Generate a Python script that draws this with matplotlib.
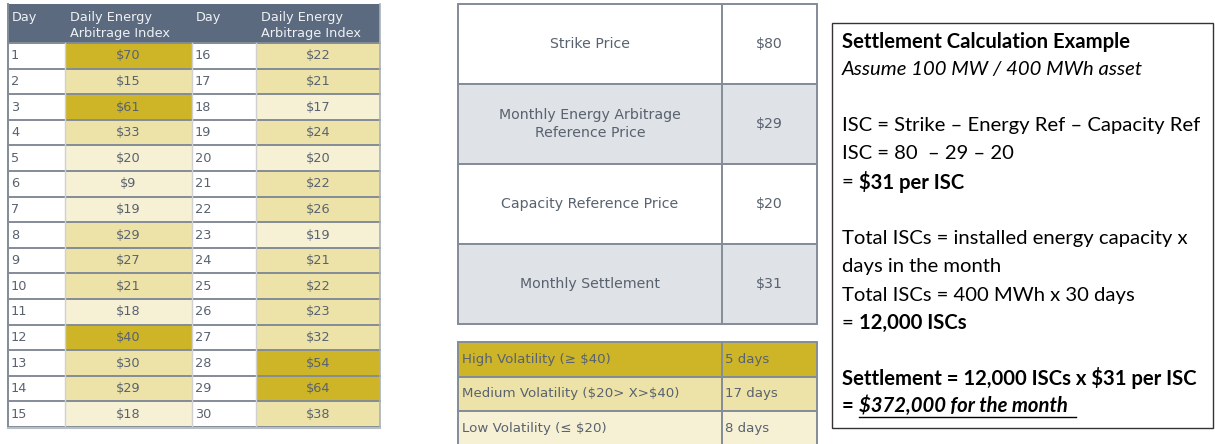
import matplotlib.pyplot as plt
from matplotlib.patches import Rectangle

plt.rcParams['text.parse_math'] = False

# daily index table
days_a = list(range(1, 16))
price_a = [70, 15, 61, 33, 20, 9, 19, 29, 27, 21, 18, 40, 30, 29, 18]
level_a = ['H', 'M', 'H', 'M', 'L', 'L', 'L', 'M', 'M', 'M', 'L', 'H', 'M', 'M', 'L']
days_b = list(range(16, 31))
price_b = [22, 21, 17, 24, 20, 22, 26, 19, 21, 22, 23, 32, 54, 64, 38]
level_b = ['M', 'M', 'L', 'M', 'L', 'M', 'M', 'L', 'M', 'M', 'M', 'M', 'H', 'H', 'M']

# reference price table
ref_labels = ['Strike Price', 'Monthly Energy Arbitrage\nReference Price',
              'Capacity Reference Price', 'Monthly Settlement']
ref_values = ['$80', '$29', '$20', '$31']

# volatility buckets
vol_labels = ['High Volatility (≥ $40)', 'Medium Volatility ($20> X>$40)', 'Low Volatility (≤ $20)']
vol_days = ['5 days', '17 days', '8 days']
vol_levels = ['H', 'M', 'L']

level_color = {'H': '#cdb527', 'M': '#ede3a9', 'L': '#f6f0d5'}
txt_gray = '#59626f'
header_col = '#5b6a7e'
line_col = '#838c97'

fig = plt.figure(figsize=(12.15, 4.44), dpi=100)
ax = fig.add_axes([0, 0, 1, 1])
ax.set_xlim(0, 1215)
ax.set_ylim(444, 0)
ax.axis('off')

# ---- left table ----
xe = [8, 65, 192, 256, 380]
top, head_h, row_h = 4, 39, 25.6
fs_l = 9.3
ax.add_patch(Rectangle((xe[0], top), xe[-1] - xe[0], head_h, color=header_col, lw=0))
for x0, lab in [(xe[0], 'Day'), (xe[2], 'Day')]:
    ax.text(x0 + 4, top + 13, lab, color='#eef1f4', fontsize=fs_l, va='center', ha='left')
for x0 in [xe[1], xe[3]]:
    ax.text(x0 + 5, top + 13, 'Daily Energy', color='#eef1f4', fontsize=fs_l, va='center')
    ax.text(x0 + 5, top + 29, 'Arbitrage Index', color='#eef1f4', fontsize=fs_l, va='center')

for j, (dd, pp, ll) in enumerate([(days_a, price_a, level_a), (days_b, price_b, level_b)]):
    xd, xp, xr = xe[2 * j], xe[2 * j + 1], xe[2 * j + 2]
    for i in range(len(dd)):
        y0 = top + head_h + i * row_h
        ax.add_patch(Rectangle((xd, y0), xp - xd, row_h, facecolor='white', lw=0))
        ax.add_patch(Rectangle((xp, y0), xr - xp, row_h, facecolor=level_color[ll[i]], lw=0))
        ax.text(xd + 3, y0 + row_h / 2, str(dd[i]), color=txt_gray, fontsize=fs_l, va='center')
        ax.text((xp + xr) / 2, y0 + row_h / 2, '$%d' % pp[i], color=txt_gray, fontsize=fs_l,
                va='center', ha='center')
bottom = top + head_h + 15 * row_h
for i in range(16):
    y = top + head_h + i * row_h
    ax.plot([xe[0], xe[-1]], [y, y], color=line_col, lw=1.4)
for x in xe[1:-1]:
    ax.plot([x, x], [top + head_h, bottom], color='#d0d0d0', lw=1)
ax.plot([xe[0], xe[0]], [top, bottom], color=line_col, lw=1.4)
ax.plot([xe[-1], xe[-1]], [top, bottom], color='#a8b0b8', lw=1.2)
ax.plot([xe[0], xe[-1]], [bottom + 1, bottom + 1], color='#b8bec5', lw=1.5)

# ---- reference price table ----
mx = [458, 722, 817]
ry = 4
rh = 80
for i in range(len(ref_labels)):
    y0 = ry + i * rh
    fc = 'white' if i % 2 == 0 else '#dfe2e6'
    ax.add_patch(Rectangle((mx[0], y0), mx[2] - mx[0], rh, facecolor=fc, edgecolor=line_col, lw=1.4))
    ax.text((mx[0] + mx[1]) / 2, y0 + rh / 2, ref_labels[i], color=txt_gray, fontsize=10.2,
            ha='center', va='center', multialignment='center', linespacing=1.45)
    ax.text((mx[1] + mx[2]) / 2, y0 + rh / 2, ref_values[i], color=txt_gray, fontsize=10.2,
            ha='center', va='center')
ax.plot([mx[1], mx[1]], [ry, ry + 4 * rh], color=line_col, lw=1.4)

# ---- volatility table ----
vy = 342
vh = 34.5
for i in range(len(vol_labels)):
    y0 = vy + i * vh
    ax.add_patch(Rectangle((mx[0], y0), mx[2] - mx[0], vh, facecolor=level_color[vol_levels[i]],
                           edgecolor=line_col, lw=1.4))
    ax.text(mx[0] + 4, y0 + vh / 2, vol_labels[i], color=txt_gray, fontsize=9.6, va='center')
    ax.text(mx[1] + 3, y0 + vh / 2, vol_days[i], color=txt_gray, fontsize=9.6, va='center')
ax.plot([mx[1], mx[1]], [vy, 444], color=line_col, lw=1.4)

# ---- settlement text box ----
ax.add_patch(Rectangle((832, 23), 381, 405, facecolor='white', edgecolor='#333333', lw=1))
font = 'Lato'
fs = 14.6
lines = [
    (42, [('Settlement Calculation Example', 'bold', 'normal')]),
    (70, [('Assume 100 MW / 400 MWh asset', 'normal', 'italic')]),
    (125, [('ISC = Strike – Energy Ref – Capacity Ref', 'normal', 'normal')]),
    (153, [('ISC = 80  – 29 – 20', 'normal', 'normal')]),
    (182, [('= ', 'normal', 'normal'), ('$31 per ISC', 'bold', 'normal')]),
    (238, [('Total ISCs = installed energy capacity x', 'normal', 'normal')]),
    (266, [('days in the month', 'normal', 'normal')]),
    (295, [('Total ISCs = 400 MWh x 30 days', 'normal', 'normal')]),
    (323, [('= ', 'normal', 'normal'), ('12,000 ISCs', 'bold', 'normal')]),
    (378, [('Settlement = 12,000 ISCs x $31 per ISC', 'bold', 'normal')]),
    (406, [('= ', 'bold', 'normal'), ('$372,000 for the month', 'bold', 'italic')]),
]
renderer = fig.canvas.get_renderer()
inv = ax.transData.inverted()
ulx = None
for y, segs in lines:
    x = 842
    for s, w, st in segs:
        t = ax.text(x, y, s, fontsize=fs, family=font, weight=w, style=st, va='center',
                    ha='left', color='black')
        bb = t.get_window_extent(renderer)
        x0d = inv.transform((bb.x0, bb.y0))[0]
        x1d = inv.transform((bb.x1, bb.y0))[0]
        if s.startswith('$372'):
            ulx = (x0d, x1d)
        x = x1d
ax.plot([ulx[0], ulx[1] + 8], [417, 417], color='black', lw=1)

fig.savefig('out.png', dpi=100)
